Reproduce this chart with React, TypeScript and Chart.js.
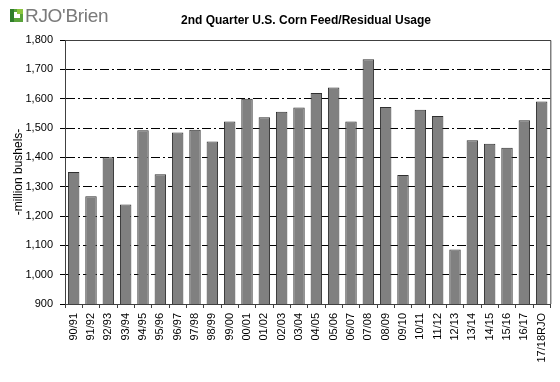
import React, { useEffect, useRef } from "react";
import { Chart, registerables } from "chart.js";

Chart.register(...registerables);

const categories = [
  "90/91", "91/92", "92/93", "93/94", "94/95", "95/96", "96/97", "97/98", "98/99", "99/00",
  "00/01", "01/02", "02/03", "03/04", "04/05", "05/06", "06/07", "07/08", "08/09", "09/10",
  "10/11", "11/12", "12/13", "13/14", "14/15", "15/16", "16/17", "17/18RJO",
];
const usage = [
  1350, 1267, 1400, 1239, 1492, 1342, 1485, 1494, 1454, 1522,
  1600, 1537, 1555, 1570, 1619, 1638, 1522, 1734, 1572, 1340,
  1562, 1541, 1086, 1458, 1446, 1433, 1526, 1590,
];
const yMin = 900;
const yMax = 1800;
const yStep = 100;
const titleText = "2nd Quarter U.S. Corn Feed/Residual Usage";
const yAxisTitle = "-million bushels-";

const FONT = "'Liberation Sans', Arial, sans-serif";

const framePlugin = {
  id: "frame",
  afterDatasetsDraw(chart: any) {
    const { ctx, chartArea } = chart;
    ctx.save();
    ctx.strokeStyle = "#404040";
    ctx.lineWidth = 1;
    ctx.setLineDash([]);
    ctx.beginPath();
    ctx.moveTo(chartArea.left, chartArea.top + 0.5);
    ctx.lineTo(chartArea.right + 0.5, chartArea.top + 0.5);
    ctx.lineTo(chartArea.right + 0.5, chartArea.bottom);
    ctx.stroke();
    ctx.restore();
  },
};

export default function App() {
  const ref = useRef<HTMLCanvasElement | null>(null);

  useEffect(() => {
    document.body.style.margin = "0";
    const canvas = ref.current;
    if (!canvas) return;
    const chart = new Chart(canvas, {
      type: "bar",
      data: {
        labels: categories,
        datasets: [
          {
            data: usage,
            backgroundColor: "#808080",
            borderColor: "#303030",
            borderWidth: 1,
            barPercentage: 0.66,
            categoryPercentage: 1,
          },
        ],
      },
      options: {
        animation: false,
        responsive: false,
        maintainAspectRatio: false,
        layout: { padding: { left: 11, right: 7, top: 40, bottom: 0 } },
        plugins: {
          legend: { display: false },
          tooltip: { enabled: false },
          title: { display: false },
        },
        scales: {
          x: {
            offset: true,
            grid: {
              offset: true,
              drawOnChartArea: false,
              drawTicks: true,
              tickLength: 4,
              color: "#404040",
            },
            border: { display: true, color: "#404040", width: 1 },
            ticks: {
              autoSkip: false,
              maxRotation: 90,
              minRotation: 90,
              padding: 5,
              color: "#000",
              font: { family: FONT, size: 11 },
            },
            afterFit(scale: any) {
              scale.height = 78;
            },
          },
          y: {
            min: yMin,
            max: yMax,
            ticks: {
              stepSize: yStep,
              padding: 7,
              color: "#000",
              font: { family: FONT, size: 11 },
              callback: (v: any) => Number(v).toLocaleString("en-US"),
            },
            grid: {
              color: "#000",
              lineWidth: 1,
              tickLength: 5,
              drawTicks: true,
            },
            border: { display: true, color: "#404040", width: 1, dash: [9, 3, 2, 3] },
            title: {
              display: true,
              text: yAxisTitle,
              color: "#000",
              font: { family: FONT, size: 12 },
              padding: { top: 0, bottom: 2 },
            },
            afterFit(scale: any) {
              scale.width = 54;
            },
          },
        },
      },
      plugins: [framePlugin],
    } as any);
    return () => chart.destroy();
  }, []);

  return (
    <div style={{ position: "fixed", left: 0, top: 0, width: 560, height: 382, background: "#fff" }}>
      <canvas ref={ref} width={560} height={382} style={{ position: "absolute", left: 0, top: 0 }} />
      <div style={{ position: "absolute", left: 10, top: 9, width: 13, height: 13 }}>
        <div style={{ position: "absolute", left: 0, top: 0, width: 13, height: 13, background: "#5aa33a" }} />
        <div style={{ position: "absolute", left: 4, top: 3, width: 6, height: 6, background: "#fff" }} />
        <div style={{ position: "absolute", left: 0, top: 0, width: 4, height: 13, background: "#2f7d2a" }} />
        <div style={{ position: "absolute", left: 7, top: 0, width: 6, height: 5, background: "#8cc63f" }} />
      </div>
      <div
        style={{
          position: "absolute",
          left: 25,
          top: 5,
          fontFamily: FONT,
          fontSize: 19,
          color: "#7a7a7a",
          lineHeight: "22px",
          letterSpacing: "-0.3px",
        }}
      >
        RJO'Brien
      </div>
      <div
        style={{
          position: "absolute",
          left: 160,
          width: 292,
          top: 13,
          textAlign: "center",
          fontFamily: FONT,
          fontWeight: "bold",
          fontSize: 12,
          lineHeight: "14px",
          color: "#000",
        }}
      >
        {titleText}
      </div>
    </div>
  );
}
